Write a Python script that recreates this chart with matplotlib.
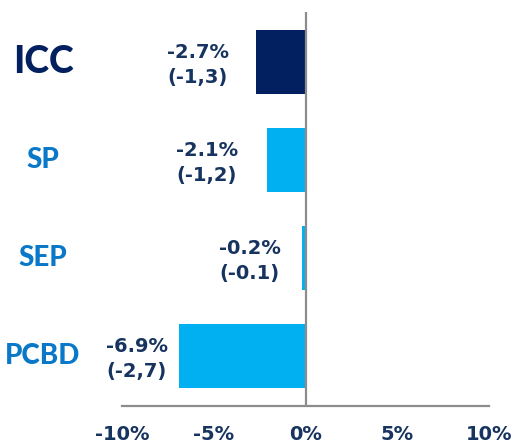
import matplotlib
matplotlib.use('Agg')
import matplotlib.pyplot as plt

# data
groups = ['ICC', 'SP', 'SEP', 'PCBD']
change_pct = [-2.7, -2.1, -0.2, -6.9]
change_abs = ['(-1,3)', '(-1,2)', '(-0.1)', '(-2,7)']
xticks = [-10, -5, 0, 5, 10]

navy = '#02205F'
light_blue = '#00B0F0'
mid_blue = '#0A78C8'
text_navy = '#17335F'
grey = '#8C8C8C'

bar_colors = [navy, light_blue, light_blue, light_blue]
name_colors = [navy, mid_blue, mid_blue, mid_blue]
name_sizes = [27, 20, 20, 20]
label_dx = [-58, -60, -52, -42]  # px left of the bar end, for the value labels

plt.rcParams['font.family'] = ['DejaVu Sans']
name_font = ['Lato', 'DejaVu Sans']

fig = plt.figure(figsize=(5.15, 4.43), dpi=100)
ax = fig.add_axes([122 / 515, 37 / 443, 367 / 515, 394 / 443])

ypos = list(range(len(groups)))
ax.barh(ypos, change_pct, height=0.66, color=bar_colors)
ax.axvline(0, color=grey, lw=1.6, zorder=3)

ax.set_xlim(-10, 10)
ax.set_ylim(len(groups) - 0.49, -0.51)

for sp in ['top', 'right', 'left']:
    ax.spines[sp].set_visible(False)
ax.spines['bottom'].set_color(grey)
ax.spines['bottom'].set_linewidth(1.6)

ax.set_yticks([])
ax.set_xticks(xticks)
ax.set_xticklabels([f'{t}%' for t in xticks], fontsize=14, fontweight='bold', color=text_navy)
ax.tick_params(axis='x', length=0, pad=14)

for i, g in enumerate(groups):
    # category names on the far left
    ax.annotate(g, xy=(0, i), xycoords=('figure fraction', 'data'),
                xytext=(43, 0), textcoords='offset pixels',
                ha='center', va='center', fontsize=name_sizes[i], fontweight='black',
                color=name_colors[i], family=name_font)
    # value labels next to the bar
    ax.annotate(f'{change_pct[i]}%\n{change_abs[i]}', xy=(change_pct[i], i),
                xytext=(label_dx[i], -3), textcoords='offset pixels',
                ha='center', va='center', fontsize=14, fontweight='bold',
                color=text_navy, linespacing=1.35)

fig.savefig('out.png', dpi=100)
